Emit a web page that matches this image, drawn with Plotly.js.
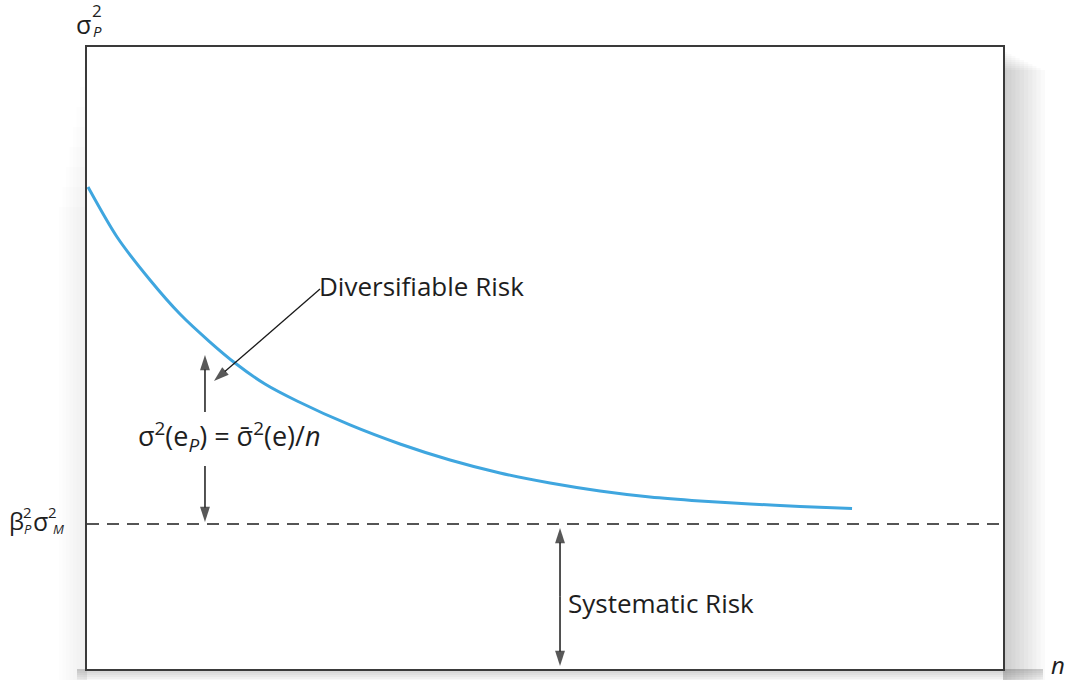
<!DOCTYPE html>
<html><head><meta charset="utf-8">
<script src="https://cdn.plot.ly/plotly-3.0.1.min.js"></script>
<style>html,body{margin:0;padding:0;background:#fff}#chart{width:1070px;height:680px}</style>
</head><body><div id="chart"></div>
<script>
// Portfolio variance vs. number of stocks n
const nVals   = [0.11, 3.28, 6.88, 10.15, 13.43, 16.16, 19.43, 22.93, 28.71, 34.17, 39.63, 45.09, 50.55, 56.00, 61.46, 66.92, 72.38, 77.84, 83.52];
const varVals = [77.49, 69.45, 62.54, 57.07, 52.57, 49.20, 45.82, 43.09, 39.23, 36.17, 33.60, 31.51, 29.90, 28.62, 27.65, 27.01, 26.53, 26.13, 25.80];
const systematicLevel = 23.3;
const xRange = [0, 100];
const yRange = [0, 100];
// arrows: [tailX, tipX], [tailY, tipY] in data units
const arrowDiagX = [25.44, 13.86], arrowDiagY = [61.09, 46.30];
const arrowUpX   = [12.88, 12.88], arrowUpY   = [41.32, 50.48];
const arrowDownX = [12.88, 12.88], arrowDownY = [32.64, 23.63];
const sysArrowX  = [51.64, 51.64], sysArrowTopY = [11.6, 22.67], sysArrowBotY = [11.6, 0.48];
const labels = {
  diversifiable: "Diversifiable Risk",
  systematic: "Systematic Risk",
  formula: "σ<sup>2</sup>(e<sub><i>P</i></sub>) = σ\u0304<sup>2</sup>(e)/<i>n</i>",
  xTitle: "<i>n</i>"
};

// pixel geometry of plot area
const L = 87, R = 1003, T = 47, B = 669;
const W = R - L, H = B - T;
const px = p => (p - L) / W;           // pixel x -> paper
const py = p => (B - p) / H;           // pixel y -> paper

const FONT = "Open Sans, Noto Sans, sans-serif";
const TXT = "#1e1e1e";

function arrowTrace(xs, ys, w) {
  return {x: xs, y: ys, mode: "lines+markers", hoverinfo: "skip", cliponaxis: false,
    line: {color: "#1a1a1a", width: w || 1.5},
    marker: {symbol: "arrow", angleref: "previous", size: [0, 16], color: "#111", line: {width: 0}}};
}

const traces = [
  {x: xRange, y: [systematicLevel, systematicLevel], mode: "lines",
   line: {color: "#555", width: 2, dash: "12px,8px"}, hoverinfo: "skip"},
  {x: nVals, y: varVals, mode: "lines", line: {color: "#3fa6df", width: 3, shape: "spline", smoothing: 0.8}, hoverinfo: "skip"},
  arrowTrace(arrowDiagX, arrowDiagY, 1.3),
  arrowTrace(arrowUpX, arrowUpY),
  arrowTrace(arrowDownX, arrowDownY),
  arrowTrace(sysArrowX, sysArrowTopY),
  arrowTrace(sysArrowX, sysArrowBotY)
];

const shapes = [];
// soft shadow on right
for (let i = 1; i <= 10; i++) {
  shapes.push({type: "rect", xref: "paper", yref: "paper", layer: "below",
    x0: px(R), x1: px(R + 4.2 * i), y0: py(680), y1: py(T + 3 + i * 2),
    fillcolor: "rgba(0,0,0,0.02)", line: {width: 0}});
}
// bottom shadow
for (let i = 1; i <= 6; i++) {
  shapes.push({type: "rect", xref: "paper", yref: "paper", layer: "below",
    x0: px(L - 10), x1: px(R + 40), y0: py(B), y1: py(B + 2 * i),
    fillcolor: "rgba(0,0,0,0.03)", line: {width: 0}});
}
// faint left shadow (fading towards the top)
for (let i = 1; i <= 8; i++) {
  shapes.push({type: "rect", xref: "paper", yref: "paper", layer: "below",
    x0: px(L - 3.5 * i), x1: px(L), y0: py(680), y1: py(T + 20 * i),
    fillcolor: "rgba(0,0,0,0.006)", line: {width: 0}});
}

function txt(x, y, text, size, anchor) {
  return {xref: "paper", yref: "paper", x: px(x), y: py(y), xanchor: anchor || "center", yanchor: "middle",
    showarrow: false, borderpad: 0, text: text, font: {family: FONT, size: size, color: TXT}};
}

const annotations = [
  txt(318, 286, labels.diversifiable, 26, "left"),
  txt(567, 603, labels.systematic, 26, "left"),
  txt(137, 437, labels.formula, 27, "left"),
  txt(1058, 664, labels.xTitle, 24),
  // y-axis title σ²_P (stacked)
  txt(83, 24, "σ", 25),
  txt(97, 11, "2", 17),
  txt(97, 31, "<i>P</i>", 15),
  // β²_P σ²_M (stacked)
  txt(16, 520, "β", 24),
  txt(27, 512, "2", 15),
  txt(28, 529, "<i>P</i>", 13),
  txt(40, 521, "σ", 25),
  txt(52, 512, "2", 15),
  txt(58, 529, "<i>M</i>", 13)
];

const layout = {
  width: 1070, height: 680,
  margin: {l: L, r: 1070 - R, t: T, b: 680 - B, pad: 0},
  paper_bgcolor: "#ffffff", plot_bgcolor: "#ffffff",
  showlegend: false,
  xaxis: {range: xRange, showgrid: false, zeroline: false, showticklabels: false, ticks: "",
          showline: true, mirror: true, linecolor: "#3a3a3a", linewidth: 2, fixedrange: true},
  yaxis: {range: yRange, showgrid: false, zeroline: false, showticklabels: false, ticks: "",
          showline: true, mirror: true, linecolor: "#3a3a3a", linewidth: 2, fixedrange: true},
  shapes: shapes,
  annotations: annotations,
  font: {family: FONT, color: TXT}
};

Plotly.newPlot("chart", traces, layout, {displayModeBar: false, staticPlot: true});
</script></body></html>
